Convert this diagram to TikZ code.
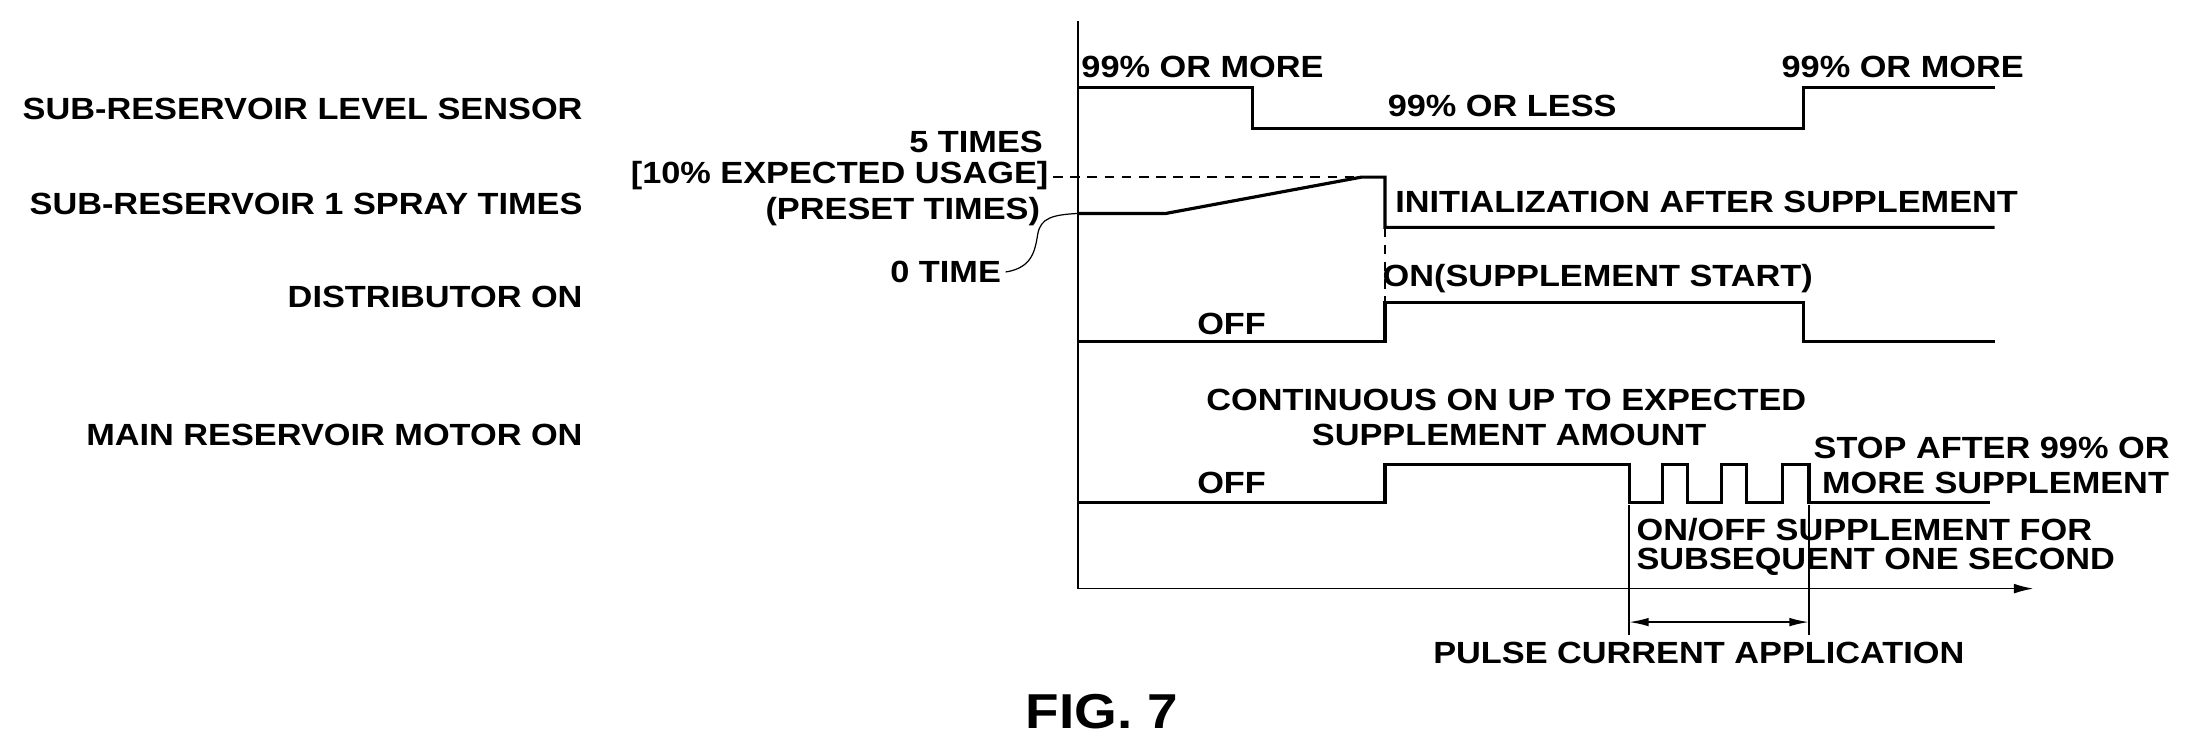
\documentclass[tikz,border=0pt]{standalone}
\usepackage{fontspec}
\setmainfont[FakeStretch=1.12]{Liberation Sans}
\usetikzlibrary{arrows.meta}
\begin{document}
\begin{tikzpicture}[x=0.02cm,y=-0.02cm,
  sig/.style={line width=1.3pt},
  thinln/.style={line width=0.7pt},
  lbl/.style={font=\fontsize{12.5}{14}\selectfont\bfseries, inner sep=0pt},
  dashln/.style={line width=0.6pt, dash pattern=on 4pt off 3pt}]
\useasboundingbox (0,0) rectangle (1568,535);
% axes
\coordinate (ytop) at (773,15);
\coordinate (orig) at (773,422);
\coordinate (xend) at (1458,422);
\draw[thinln] (ytop) -- (orig);
\draw[thinln,-{Latex[length=8pt,width=4pt]}] (orig) -- (xend);
% left labels
\node[lbl,anchor=east] (l1) at (418,78) {SUB-RESERVOIR LEVEL SENSOR};
\node[lbl,anchor=east] (l2) at (418,146) {SUB-RESERVOIR 1 SPRAY TIMES};
\node[lbl,anchor=east] (l3) at (418,213) {DISTRIBUTOR ON};
\node[lbl,anchor=east] (l4) at (418,312) {MAIN RESERVOIR MOTOR ON};
% level sensor
\draw[sig] (773,63) -- (898,63) -- (898,92) -- (1293,92) -- (1293,63) -- (1430,63);
\node[lbl,anchor=west] (a1) at (775,48) {99\% OR MORE};
\node[lbl] (a2) at (1077,76) {99\% OR LESS};
\node[lbl,anchor=west] (a3) at (1277,48) {99\% OR MORE};
% spray times
\draw[dashln] (755,127) -- (993,127);
\draw[sig] (773,153) -- (836,153) -- (976,127) -- (993,127) -- (993,163) -- (1430,163);
\draw[dashln] (993,163) -- (993,217);
\node[lbl,anchor=east] (b1) at (748,102) {5 TIMES};
\node[lbl,anchor=east] (b2) at (752,126) {[10\% EXPECTED USAGE]};
\node[lbl,anchor=east] (b3) at (746,152) {(PRESET TIMES)};
\node[lbl,anchor=east] (b4) at (718,195) {0 TIME};
\coordinate (z0) at (773,153);
\draw[line width=0.5pt] (b4.east) ++(3,0) .. controls (740,192) and (742,180) .. (744,168) .. controls (746,156) and (755,154) .. (z0);
\node[lbl,anchor=west] (b5) at (1000,145) {INITIALIZATION AFTER SUPPLEMENT};
% distributor
\draw[sig] (773,245) -- (993,245) -- (993,217) -- (1293,217) -- (1293,245) -- (1430,245);
\node[lbl] (c1) at (883,232) {OFF};
\node[lbl,anchor=west] (c2) at (991,200) {ON(SUPPLEMENT START)};
% motor
\draw[sig] (773,360) -- (993,360) -- (993,333) -- (1168,333) -- (1168,360) -- (1192,360) -- (1192,333)
  -- (1210,333) -- (1210,360) -- (1234,360) -- (1234,333) -- (1252,333) -- (1252,360) -- (1278,360)
  -- (1278,333) -- (1297,333) -- (1297,360) -- (1427,360);
\node[lbl] (d1) at (883,346) {OFF};
\node[lbl] (d2) at (1080,287) {CONTINUOUS ON UP TO EXPECTED};
\node[lbl] (d3) at (1082,312) {SUPPLEMENT AMOUNT};
\node[lbl,anchor=west] (d4) at (1300,321) {STOP AFTER 99\% OR};
\node[lbl,anchor=west] (d5) at (1306,346) {MORE SUPPLEMENT};
\node[lbl,anchor=west] (d6) at (1173,380) {ON/OFF SUPPLEMENT FOR};
\node[lbl,anchor=west] (d7) at (1173,403) {SUBSEQUENT ONE SECOND};
% pulse span
\coordinate (p1t) at (1168,362); \coordinate (p1b) at (1168,455);
\coordinate (p2t) at (1297,362); \coordinate (p2b) at (1297,455);
\draw[thinln] (p1t) -- (p1b);
\draw[thinln] (p2t) -- (p2b);
\coordinate (pa) at (1168,446); \coordinate (pb) at (1297,446);
\draw[thinln,{Latex[length=8pt,width=3.5pt]}-{Latex[length=8pt,width=3.5pt]}] (pa) -- (pb);
\node[lbl] (e1) at (1218,468) {PULSE CURRENT APPLICATION};
\node[font=\fontsize{20}{24}\selectfont\bfseries, inner sep=0pt] (fig) at (790,510) {FIG. 7};
\end{tikzpicture}
\end{document}
